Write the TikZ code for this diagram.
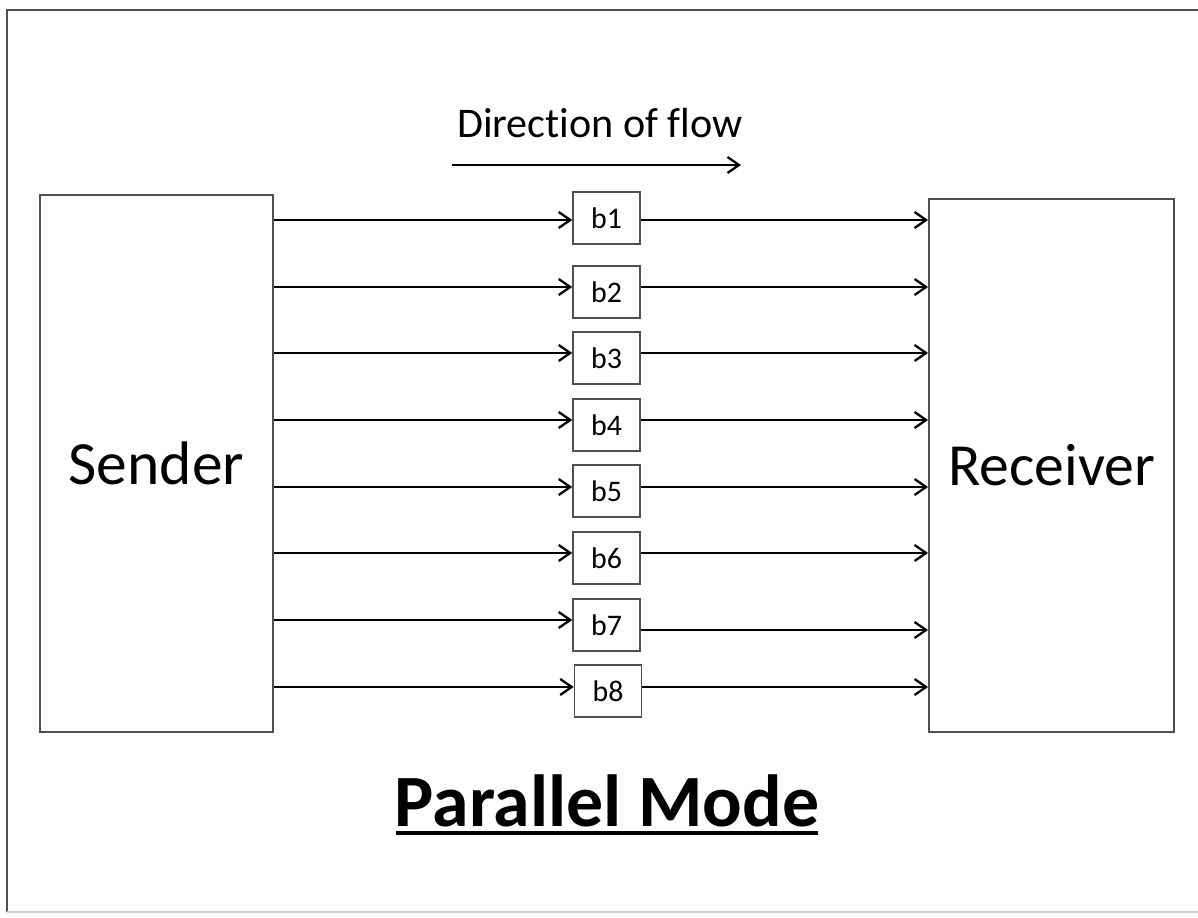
\documentclass[tikz,border=0pt]{standalone}
\usepackage{fontspec}
\setmainfont{Carlito}[Ligatures=NoCommon]
\usetikzlibrary{arrows.meta}
\definecolor{boxGris}{HTML}{505050}
\begin{document}
\begin{tikzpicture}[x=0.02cm, y=-0.02cm,
      big/.style={draw=boxGris, line width=1.1pt, minimum width=4.66cm, minimum height=10.74cm,
                font=\fontsize{35}{40}\selectfont},
      bit/.style={draw=boxGris, line width=0.9pt, minimum width=1.34cm, minimum height=1.04cm,
                inner sep=0pt, font=\fontsize{17}{20}\selectfont},
      flow/.style={-{Straight Barb[length=2.3mm,width=3.2mm,line width=1.3pt]}, line width=1.4pt},
      every node/.style={align=center}]
    \clip (0,0) rectangle (1198,918);
    \fill[white] (0,0) rectangle (1198,918);
    \draw[boxGris, line width=1.3pt] (1300,10) -- (7,10) -- (7,912);
    \draw[gray!40, line width=0.8pt] (7,912) -- (1300,912);
    \node[big] (snd) at (156.5,463.5) {Sender};
    \node[big, minimum width=4.9cm, minimum height=10.66cm, font=\fontsize{34}{40}\selectfont] (rcv) at (1051.5,465.5) {Receiver};
    \node[font=\fontsize{24}{28}\selectfont] (dir) at (600,123) {Direction of flow};
    \coordinate (d0) at (452,165);
    \coordinate (d1) at (741,165);
    \draw[flow] (d0) -- (d1);
    \node[bit] (b1) at (606.5,218) {b1};
    \node[bit] (b2) at (606.5,292) {b2};
    \node[bit] (b3) at (606.5,358) {b3};
    \node[bit] (b4) at (606.5,425) {b4};
    \node[bit] (b5) at (606.5,491) {b5};
    \node[bit] (b6) at (606.5,558) {b6};
    \node[bit] (b7) at (606.5,625) {b7};
    \node[bit] (b8) at (608,691) {b8};
    \coordinate (r1) at (0,220);
    \coordinate (r2) at (0,287);
    \coordinate (r3) at (0,353);
    \coordinate (r4) at (0,420);
    \coordinate (r5) at (0,487);
    \coordinate (r6) at (0,553);
    \coordinate (r7) at (0,620);
    \coordinate (r8) at (0,687);
    \coordinate (q7) at (0,630);
    \draw[flow] (snd.east |- r1) -- (b1.west |- r1);
    \draw[flow] (snd.east |- r2) -- (b2.west |- r2);
    \draw[flow] (snd.east |- r3) -- (b3.west |- r3);
    \draw[flow] (snd.east |- r4) -- (b4.west |- r4);
    \draw[flow] (snd.east |- r5) -- (b5.west |- r5);
    \draw[flow] (snd.east |- r6) -- (b6.west |- r6);
    \draw[flow] (snd.east |- r7) -- (b7.west |- r7);
    \draw[flow] (snd.east |- r8) -- (b8.west |- r8);
    \draw[flow] (b1.east |- r1) -- (rcv.west |- r1);
    \draw[flow] (b2.east |- r2) -- (rcv.west |- r2);
    \draw[flow] (b3.east |- r3) -- (rcv.west |- r3);
    \draw[flow] (b4.east |- r4) -- (rcv.west |- r4);
    \draw[flow] (b5.east |- r5) -- (rcv.west |- r5);
    \draw[flow] (b6.east |- r6) -- (rcv.west |- r6);
    \draw[flow] (b7.east |- q7) -- (rcv.west |- q7);
    \draw[flow] (b8.east |- r8) -- (rcv.west |- r8);
    % titulo subrayado
    \node[font=\fontsize{42}{48}\selectfont\bfseries, inner sep=0pt] (ttl) at (607,801) {Parallel Mode};
    \draw[line width=2.2pt] ([xshift=1pt,yshift=-3pt]ttl.south west) -- ([xshift=-1pt,yshift=-3pt]ttl.south east);
  \end{tikzpicture}
\end{document}
